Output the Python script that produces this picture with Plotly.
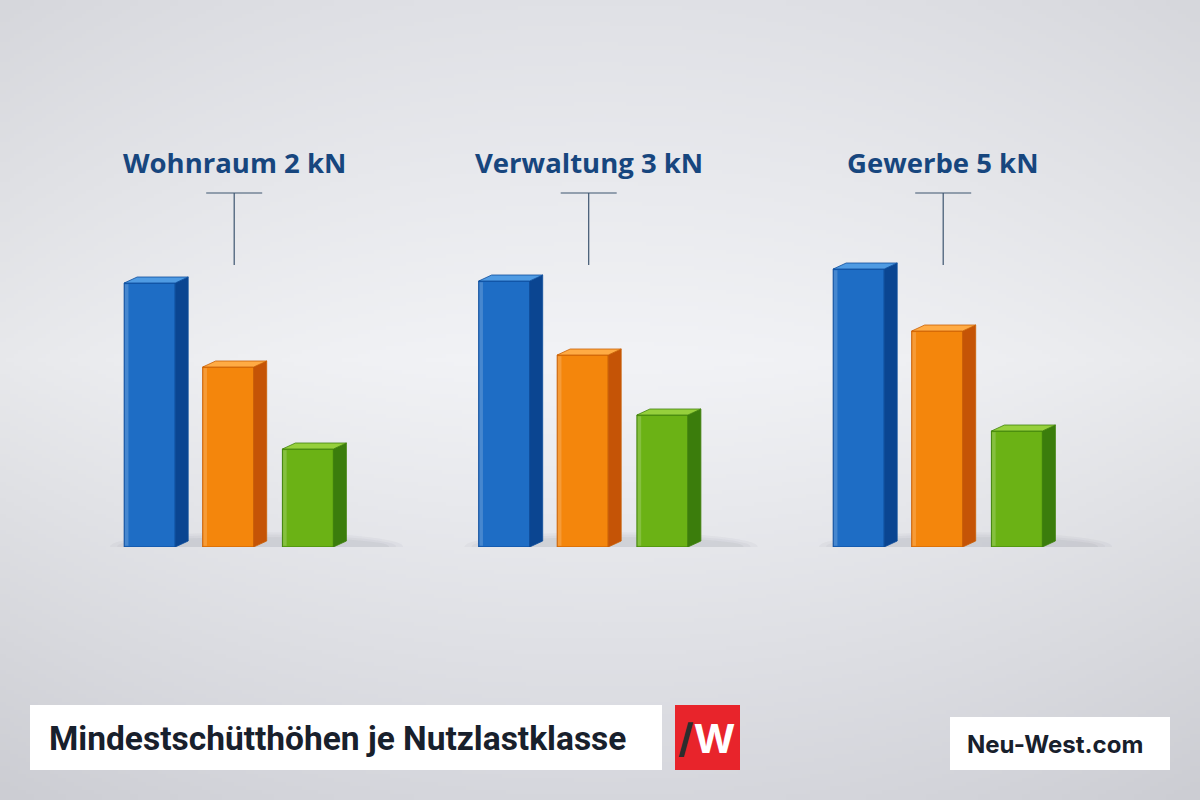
import base64
import struct
import zlib

import numpy as np
import plotly.graph_objects as go

# ---------------- data ----------------
groups = ["Wohnraum 2 kN", "Verwaltung 3 kN", "Gewerbe 5 kN"]
series_names = ["Stufe A", "Stufe B", "Stufe C"]
values_blue = [66.0, 66.5, 69.5]
values_orange = [45.0, 48.0, 54.0]
values_green = [24.5, 33.0, 29.0]
title_text = "Mindestschütthöhen je Nutzlastklasse"
brand_text = "Neu-West.com"

# ---------------- style ----------------
W, H = 1200, 800
PX_PER_GROUP = 354.5          # pixels between group centres
FIRST_CENTER_PX = 234.2       # pixel position of first group centre
BASELINE_PX = 547             # pixel y of bar base
PX_PER_UNIT = 4.0             # vertical pixels per value unit

front_w = 51 / PX_PER_GROUP
side_d = 13 / PX_PER_GROUP
top_dz = 6 / PX_PER_UNIT
offsets = [-110 / PX_PER_GROUP, -31.5 / PX_PER_GROUP, 48.2 / PX_PER_GROUP]

series = [
    dict(vals=values_blue, front="#1e6dc5", line="#0c4c9c", side="#0a4591", top="#4f9be3"),
    dict(vals=values_orange, front="#f4860c", line="#c95f05", side="#c55406", top="#ffab44"),
    dict(vals=values_green, front="#6bb215", line="#40820c", side="#3b7d0c", top="#96d03c"),
]


def px_x(px):
    return px / W


def px_y(py):
    return 1 - py / H


# ---------------- background gradient image ----------------
def make_bg(w=300, h=200):
    ys = np.linspace(0, 1, h)[:, None]
    xs = np.linspace(0, 1, w)[None, :]
    top = np.array([224, 225, 230], float)
    mid = np.array([242, 243, 246], float)
    bot = np.array([214, 215, 221], float)
    t1 = np.clip(ys / 0.45, 0, 1)
    t2 = np.clip((ys - 0.45) / 0.55, 0, 1)
    col = np.where(ys[..., None] < 0.45,
                   top + (mid - top) * t1[..., None],
                   mid + (bot - mid) * t2[..., None])
    col = np.broadcast_to(col, (h, w, 3)).copy()
    dx = np.abs(xs - 0.5) * 2
    col -= (dx ** 2 * 10)[..., None]
    arr = np.clip(col, 0, 255).astype(np.uint8)
    raw = b"".join(b"\x00" + arr[i].tobytes() for i in range(h))

    def chunk(tag, data):
        c = struct.pack(">I", len(data)) + tag + data
        return c + struct.pack(">I", zlib.crc32(tag + data) & 0xFFFFFFFF)

    png = b"\x89PNG\r\n\x1a\n"
    png += chunk(b"IHDR", struct.pack(">IIBBBBB", w, h, 8, 2, 0, 0, 0))
    png += chunk(b"IDAT", zlib.compress(raw, 9))
    png += chunk(b"IEND", b"")
    return "data:image/png;base64," + base64.b64encode(png).decode()


x_idx = list(range(len(groups)))

fig = go.Figure()
shapes = []

# soft shadows under each group
for i in x_idx:
    for k, op in enumerate([0.05, 0.05, 0.06]):
        grow = (2 - k) * 0.02
        shapes.append(dict(type="circle", xref="x", yref="y", layer="below",
                           x0=i + offsets[0] - grow, x1=i + offsets[2] + front_w + side_d + 0.12 + grow,
                           y0=-2.2 - (2 - k) * 0.6, y1=2.5 + (2 - k) * 0.6,
                           fillcolor=f"rgba(90,95,110,{op})", line=dict(width=0)))

for s_i, s in enumerate(series):
    off = offsets[s_i]
    fig.add_trace(go.Bar(
        x=x_idx, y=s["vals"], name=series_names[s_i],
        offset=off, width=front_w,
        marker=dict(color=s["front"], line=dict(color=s["line"], width=1)),
        hoverinfo="y+name",
    ))
    for i, v in zip(x_idx, s["vals"]):
        x0 = i + off
        x1 = x0 + front_w
        shapes.append(dict(type="path", xref="x", yref="y", layer="above",
                           path=f"M{x1},0 L{x1 + side_d},{top_dz} L{x1 + side_d},{v + top_dz} L{x1},{v} Z",
                           fillcolor=s["side"], line=dict(color=s["line"], width=0.8)))
        shapes.append(dict(type="path", xref="x", yref="y", layer="above",
                           path=f"M{x0},{v} L{x1},{v} L{x1 + side_d},{v + top_dz} L{x0 + side_d},{v + top_dz} Z",
                           fillcolor=s["top"], line=dict(color=s["line"], width=0.8)))
        shapes.append(dict(type="rect", xref="x", yref="y", layer="above",
                           x0=x0 + 0.002, x1=x0 + 0.012, y0=0.3, y1=v - 0.3,
                           fillcolor="rgba(255,255,255,0.18)", line=dict(width=0)))

# group labels and T markers
annotations = []
for i, g in zip(x_idx, groups):
    annotations.append(dict(x=i, y=px_y(162), xref="x", yref="paper", text=f"<b>{g}</b>",
                            showarrow=False, font=dict(family="Open Sans", size=27.5, color="#17467e"),
                            xanchor="center", yanchor="middle"))
    shapes.append(dict(type="line", xref="x", yref="paper",
                       x0=i - 28 / PX_PER_GROUP, x1=i + 28 / PX_PER_GROUP,
                       y0=px_y(193), y1=px_y(193), line=dict(color="#3d556f", width=1.2)))
    shapes.append(dict(type="line", xref="x", yref="paper",
                       x0=i, x1=i, y0=px_y(193), y1=px_y(265), line=dict(color="#3d556f", width=1.2)))

# footer boxes
shapes.append(dict(type="rect", xref="paper", yref="paper", x0=px_x(30), x1=px_x(662),
                   y0=px_y(770), y1=px_y(705), fillcolor="white", line=dict(width=0)))
shapes.append(dict(type="rect", xref="paper", yref="paper", x0=px_x(675), x1=px_x(740),
                   y0=px_y(770), y1=px_y(705), fillcolor="#e8242b", line=dict(width=0)))
shapes.append(dict(type="rect", xref="paper", yref="paper", x0=px_x(950), x1=px_x(1170),
                   y0=px_y(770), y1=px_y(717), fillcolor="white", line=dict(width=0)))

annotations.append(dict(x=px_x(47), y=px_y(738), xref="paper", yref="paper",
                        text=f"<b>{title_text}</b>", showarrow=False, xanchor="left", yanchor="middle",
                        font=dict(family="Roboto, Arial", size=33.5, color="#18202c")))
annotations.append(dict(x=px_x(707), y=px_y(738), xref="paper", yref="paper",
                        text="<b><span style='color:#2d2d2d'>/</span>W</b>", showarrow=False,
                        xanchor="center", yanchor="middle",
                        font=dict(family="Inter, Liberation Sans", size=40, color="white")))
annotations.append(dict(x=px_x(1055), y=px_y(744), xref="paper", yref="paper",
                        text=f"<b>{brand_text}</b>", showarrow=False, xanchor="center", yanchor="middle",
                        font=dict(family="Inter, Liberation Sans, Arial", size=24, color="#18202c")))

x_range = [-FIRST_CENTER_PX / PX_PER_GROUP, (W - FIRST_CENTER_PX) / PX_PER_GROUP]
y_range = [0, BASELINE_PX / PX_PER_UNIT]

fig.update_layout(
    width=W, height=H,
    margin=dict(l=0, r=0, t=0, b=0),
    paper_bgcolor="#e9eaee",
    plot_bgcolor="rgba(0,0,0,0)",
    barmode="overlay",
    showlegend=False,
    xaxis=dict(range=x_range, visible=False, domain=[0, 1], fixedrange=True),
    yaxis=dict(range=y_range, visible=False, domain=[1 - BASELINE_PX / H, 1], fixedrange=True),
    shapes=shapes,
    annotations=annotations,
    images=[dict(source=make_bg(), xref="paper", yref="paper", x=0, y=1, sizex=1, sizey=1,
                 sizing="stretch", xanchor="left", yanchor="top", layer="below")],
)

fig.write_html("out.html")
